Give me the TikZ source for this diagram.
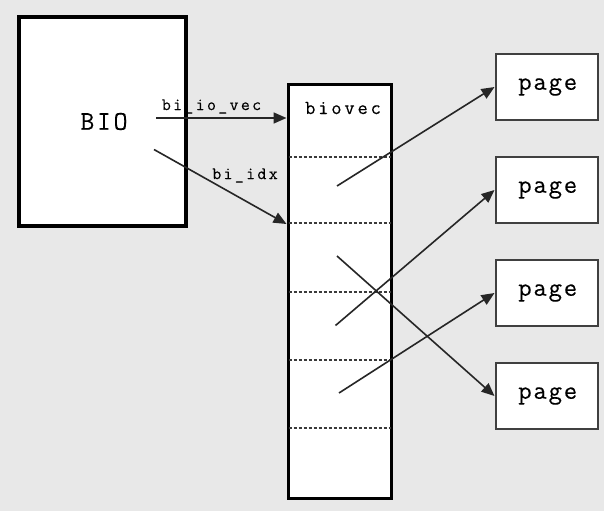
\documentclass[tikz,border=0pt]{standalone}
\usepackage{fontspec}
\newfontfamily\courpage[LetterSpace=7,FakeBold=0.2]{Latin Modern Mono}
\newfontfamily\courbio[LetterSpace=10,FakeBold=0.2]{Latin Modern Mono}
\newfontfamily\courvec[LetterSpace=14,FakeBold=0.2]{Latin Modern Mono}
\newfontfamily\courlbl[LetterSpace=13,FakeBold=0.2]{Latin Modern Mono}
\usetikzlibrary{arrows.meta}
\definecolor{bggray}{HTML}{E8E8E8}
\definecolor{pageline}{HTML}{404040}
\definecolor{dotline}{HTML}{3A3A3A}
\tikzset{
  bigbox/.style={draw=black, line width=3.5pt, fill=white, rectangle, inner sep=0pt},
  vecbox/.style={draw=black, line width=3pt, fill=white, rectangle, inner sep=0pt},
  pagebox/.style={draw=pageline, line width=2pt, fill=white, rectangle, inner sep=0pt,
    minimum width=102.5pt, minimum height=66pt, font=\courpage\fontsize{26}{28}\selectfont},
  ptr/.style={draw=black!85, line width=1.6pt, -{Triangle[length=13pt,width=11pt]}},
  divider/.style={draw=dotline, line width=1.7pt, dash pattern=on 3pt off 2pt},
  lbl/.style={inner sep=0pt, font=\courlbl\fontsize{17.5}{19}\selectfont}
}
\begin{document}
\begin{tikzpicture}[x=1pt,y=-1pt]
\fill[bggray] (0,0) rectangle (604,511);
\useasboundingbox (0,0) rectangle (604,511);
% BIO
\node[bigbox, minimum width=167pt, minimum height=209pt,
  font=\courbio\fontsize{27}{29}\selectfont] (bio) at (102.5,121.5) {\hspace*{3pt}BIO};
% biovec
\node[vecbox, minimum width=103pt, minimum height=414pt] (bv) at (339.5,291) {};
\node[inner sep=0pt, font=\courvec\fontsize{20}{22}\selectfont] (bvt) at (343,108) {biovec};
\foreach \y in {157,223,292,360,428}
  \draw[divider] ([xshift=2pt]bv.west |- 0,\y) -- ([xshift=-2pt]bv.east |- 0,\y);
% pages
\node[pagebox] (p1) at (546.75,87) {\hspace*{2pt}page};
\node[pagebox] (p2) at (546.75,190) {\hspace*{2pt}page};
\node[pagebox] (p3) at (546.75,293) {\hspace*{2pt}page};
\node[pagebox] (p4) at (546.75,396) {\hspace*{2pt}page};
% pointers from BIO
\coordinate (s1) at (156,118);
\coordinate (s2) at (154,149.5);
\coordinate (t2) at (288,224);
\draw[ptr] (s1) -- (s1 -| bv.west);
\draw[ptr] (s2) -- (t2 -| bv.west);
\node[lbl] (l1) at (211.5,106.5) {bi\_io\_vec};
\node[lbl] (l2) at (245,175.5) {bi\_idx};
% pointers from biovec entries
\coordinate (e1) at (337,186);
\coordinate (e2) at (335.5,325.5);
\coordinate (e3) at (337,256);
\coordinate (e4) at (339,393);
\draw[ptr] (e1) -- (p1.west);
\draw[ptr] (e2) -- (p2.west);
\draw[ptr] (e3) -- (p4.west);
\draw[ptr] (e4) -- (p3.west);
\end{tikzpicture}
\end{document}
